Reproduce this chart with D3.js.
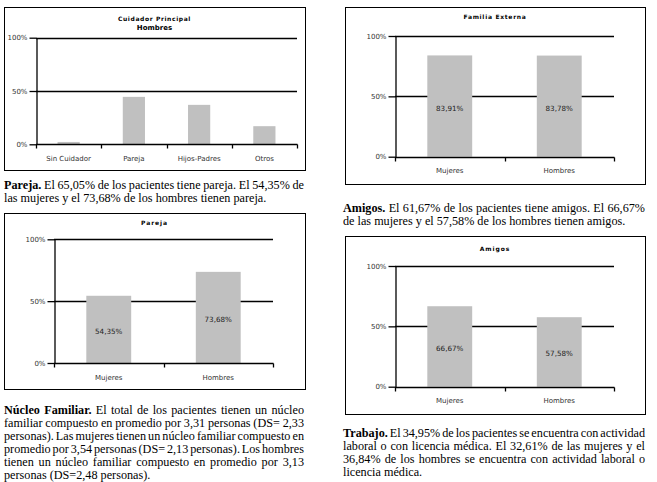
<!DOCTYPE html>
<html><head><meta charset="utf-8">
<script src="https://cdn.jsdelivr.net/npm/d3@7"></script>
<style>body{margin:0;background:#fff}</style>
</head><body>
<script>
// ---------- data ----------
const cuidadorCategories = ["Sin Cuidador","Pareja","Hijos-Padres","Otros"];
const cuidadorValues = [2.2, 44.5, 37.0, 17.0];
const sexCategories = ["Mujeres","Hombres"];
const familiaValues = [83.91, 83.78];
const parejaValues = [54.35, 73.68];
const amigosValues = [66.67, 57.58];
const yTicks = [0, 50, 100];

const parejaText = ["Pareja.", " El 65,05% de los pacientes tiene pareja. El 54,35% de", "las mujeres y el 73,68% de los hombres tienen pareja."];
const amigosText = ["Amigos.", " El 61,67% de los pacientes tiene amigos. El 66,67%", "de las mujeres y el 57,58% de los hombres tienen amigos."];
const nucleoText = ["Núcleo Familiar.", " El total de los pacientes tienen un núcleo",
  "familiar compuesto en promedio por 3,31 personas (DS= 2,33",
  "personas). Las mujeres tienen un núcleo familiar compuesto en",
  "promedio por 3,54 personas (DS= 2,13 personas). Los hombres",
  "tienen un núcleo familiar compuesto en promedio por 3,13",
  "personas (DS=2,48 personas)."];
const trabajoText = ["Trabajo.", " El 34,95% de los pacientes se encuentra con actividad",
  "laboral o con licencia médica. El 32,61% de las mujeres y el",
  "36,84% de los hombres se encuentra con actividad laboral o",
  "licencia médica."];

// ---------- drawing ----------
const svg = d3.select("body").append("svg").attr("width", 657).attr("height", 482);
const SANS = "'DejaVu Sans', Verdana, sans-serif";
const SERIF = "'Liberation Serif', 'Times New Roman', serif";
const fmt = d => d3.format(".2f")(d).replace(".", ",") + "%";

function chart(cfg) {
  const g = svg.append("g");
  const [bx0, by0, bx1, by1] = cfg.box;
  g.append("rect").attr("x", bx0 + 0.5).attr("y", by0 + 0.5)
    .attr("width", bx1 - bx0).attr("height", by1 - by0)
    .attr("fill", "#fff").attr("stroke", "#000").attr("stroke-width", 1);

  const x = d3.scaleBand().domain(cfg.cats).range([cfg.x0, cfg.x1]).padding(0);
  const y = d3.scaleLinear().domain([0, 100]).range([cfg.y0, cfg.y100]);
  const bw = x.bandwidth();

  // gridlines
  g.selectAll("line.grid").data(yTicks.filter(t => t > 0)).join("line")
    .attr("class", "grid")
    .attr("x1", cfg.x0).attr("x2", cfg.x1)
    .attr("y1", d => Math.round(y(d)) + 0.5).attr("y2", d => Math.round(y(d)) + 0.5)
    .attr("stroke", "#000").attr("stroke-width", 1.3);

  // bars
  g.selectAll("rect.bar").data(cfg.vals).join("rect")
    .attr("class", "bar")
    .attr("x", (d, i) => x(cfg.cats[i]) + bw * (1 - cfg.ratio) / 2)
    .attr("width", bw * cfg.ratio)
    .attr("y", d => y(d))
    .attr("height", d => y(0) - y(d))
    .attr("fill", "#c0c0c0");

  // value labels
  if (cfg.labels) {
    g.selectAll("text.val").data(cfg.vals).join("text")
      .attr("class", "val")
      .attr("x", (d, i) => x(cfg.cats[i]) + bw / 2)
      .attr("y", d => (y(d) + y(0)) / 2 + 4.5)
      .attr("text-anchor", "middle")
      .style("font-family", SANS).style("font-size", "7.2px").attr("fill", "#222")
      .text(fmt);
  }

  // y axis
  const ya = g.append("g").attr("transform", `translate(${cfg.x0 + 0.5},0)`)
    .call(d3.axisLeft(y).tickValues(yTicks).tickSize(7).tickSizeOuter(0).tickPadding(2).tickFormat(d => d + "%"));
  ya.selectAll("path,line").attr("stroke", "#000").attr("stroke-width", 1.3);
  ya.selectAll("text").style("font-family", SANS).style("font-size", "7px").attr("fill", "#333");

  // x axis
  const y0 = Math.round(y(0)) + 0.5;
  g.append("line").attr("x1", cfg.x0).attr("x2", cfg.x1 + 0.5).attr("y1", y0).attr("y2", y0)
    .attr("stroke", "#000").attr("stroke-width", 1.3);
  const bounds = cfg.cats.map(c => x(c)).concat([cfg.x1]);
  g.selectAll("line.xt").data(bounds).join("line").attr("class", "xt")
    .attr("x1", d => Math.round(d) + 0.5).attr("x2", d => Math.round(d) + 0.5)
    .attr("y1", y0).attr("y2", y0 + 4)
    .attr("stroke", "#000").attr("stroke-width", 1.3);
  g.selectAll("text.cat").data(cfg.cats).join("text").attr("class", "cat")
    .attr("x", d => x(d) + bw / 2).attr("y", cfg.y0 + 16.5)
    .attr("text-anchor", "middle")
    .style("font-family", SANS).style("font-size", "7px").attr("fill", "#333")
    .text(d => d);

  // titles
  cfg.titles.forEach(t => {
    g.append("text").attr("x", (bx0 + bx1) / 2).attr("y", t.y)
      .attr("text-anchor", "middle")
      .style("font-family", SANS).style("font-size", t.size + "px")
      .style("font-weight", "bold").style("letter-spacing", t.ls + "px")
      .attr("fill", "#000").text(t.text);
  });
}

chart({ box: [4, 7, 305, 170], x0: 36, x1: 297, y100: 37.7, y0: 144.3,
  cats: cuidadorCategories, vals: cuidadorValues, ratio: 0.34, labels: false,
  titles: [{ text: "Cuidador Principal", y: 20.5, size: 6, ls: 0.6 }, { text: "Hombres", y: 29.5, size: 7, ls: 0 }] });

chart({ box: [345, 7, 645, 184], x0: 395, x1: 614, y100: 36, y0: 156.7,
  cats: sexCategories, vals: familiaValues, ratio: 0.41, labels: true,
  titles: [{ text: "Familia Externa", y: 18.5, size: 6, ls: 0.7 }] });

chart({ box: [4, 213, 305, 389], x0: 54, x1: 273, y100: 239.3, y0: 363,
  cats: sexCategories, vals: parejaValues, ratio: 0.41, labels: true,
  titles: [{ text: "Pareja", y: 224.5, size: 6, ls: 0.9 }] });

chart({ box: [345, 236, 645, 414], x0: 395, x1: 614, y100: 266, y0: 386.7,
  cats: sexCategories, vals: amigosValues, ratio: 0.41, labels: true,
  titles: [{ text: "Amigos", y: 250.5, size: 6, ls: 0.9 }] });

// paragraphs
function para(arr, x, base, width, lh, fs) {
  const lines = [[{ t: arr[0], b: true }, { t: arr[1], b: false }]].concat(arr.slice(2).map(s => [{ t: s, b: false }]));
  lines.forEach((parts, i) => {
    const t = svg.append("text").attr("x", x).attr("y", base + i * lh)
      .style("font-family", SERIF).style("font-size", fs + "px").attr("fill", "#000");
    parts.forEach(p => t.append("tspan").text(p.t).style("font-weight", p.b ? "bold" : "normal"));
    if (i < lines.length - 1) {
      const full = parts.map(p => p.t).join("");
      const n = (full.match(/ /g) || []).length;
      const len = t.node().getComputedTextLength();
      t.attr("word-spacing", (width - len) / n);
    }
  });
}
para(parejaText, 4, 189, 300, 12.9, 12.2);
para(amigosText, 343, 212, 302, 12.9, 12.2);
para(nucleoText, 4, 414, 300, 12.9, 12.2);
para(trabajoText, 343, 437, 302, 12.9, 12.2);
</script>
</body></html>
